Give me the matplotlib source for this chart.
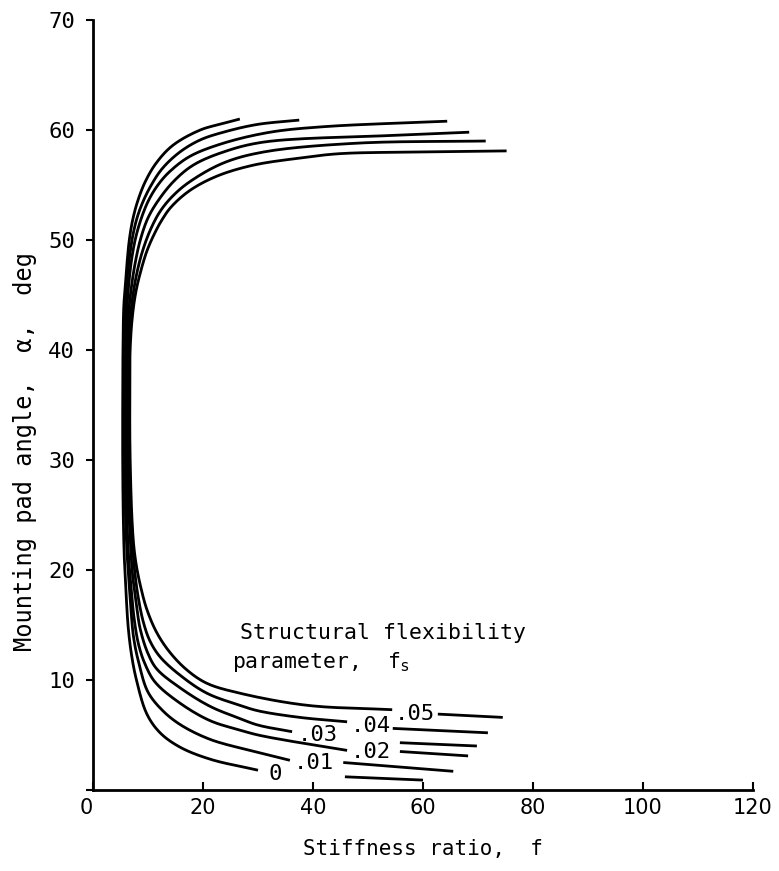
import numpy as np
import matplotlib
matplotlib.use("Agg")
import matplotlib.pyplot as plt

# ---- data: stiffness ratio f (x) vs mounting pad angle alpha (deg) ----
fs_labels = ["0", ".01", ".02", ".03", ".04", ".05"]

# main branch of each curve (from lower label gap, down round the bend, up to upper end)
f_000 = [30.0, 21.3, 15.8, 12.2, 9.8, 7.9, 7.0, 6.4, 6.0, 5.7, 5.5, 5.4, 5.4, 5.45, 5.6, 5.9, 6.2, 6.6, 7.2, 8.1, 9.5, 11.5, 14.5, 19.5, 23.7, 26.7]
a_000 = [1.8, 2.8, 3.9, 5.2, 6.9, 10.0, 12.3, 14.8, 18.0, 21.0, 25.0, 30.0, 35.0, 40.0, 44.0, 46.0, 48.0, 50.0, 51.8, 53.5, 55.3, 57.0, 58.6, 60.0, 60.6, 61.0]

f_001 = [35.8, 28.5, 21.3, 16.0, 12.7, 10.0, 8.4, 7.4, 6.9, 6.6, 6.3, 5.9, 5.7, 5.65, 5.7, 5.85, 6.2, 6.65, 7.2, 8.0, 9.1, 10.6, 12.6, 15.8, 19.5, 23.7, 29.8, 37.5]
a_001 = [2.7, 3.6, 4.6, 5.9, 7.2, 8.9, 11.4, 13.8, 16.4, 18.5, 20.5, 25.0, 30.0, 35.0, 40.0, 44.0, 46.5, 48.5, 50.3, 52.0, 53.5, 55.0, 56.5, 58.0, 59.1, 59.8, 60.5, 60.9]

f_002 = [46.2, 37.6, 30.0, 26.7, 21.3, 15.8, 11.3, 9.5, 8.3, 7.5, 7.0, 6.5, 6.15, 5.95, 5.9, 5.95, 6.2, 6.6, 7.1, 7.8, 8.8, 10.1, 11.8, 13.9, 17.6, 23.7, 32.2, 41.9, 64.4]
a_002 = [3.6, 4.3, 5.0, 5.45, 6.3, 7.9, 9.8, 11.4, 13.2, 15.5, 18.0, 21.0, 25.0, 30.0, 35.0, 40.0, 44.0, 46.5, 48.5, 50.3, 52.0, 53.6, 55.0, 56.2, 57.6, 58.8, 59.8, 60.3, 60.8]

f_003 = [36.2, 30.0, 26.7, 21.3, 15.8, 11.6, 10.0, 8.6, 7.9, 7.2, 6.7, 6.35, 6.2, 6.15, 6.2, 6.5, 7.0, 7.7, 8.6, 9.9, 11.6, 14.6, 18.2, 23.7, 31.0, 54.0, 68.4]
a_003 = [5.3, 5.9, 6.5, 7.6, 9.3, 11.0, 12.4, 14.6, 16.8, 19.5, 23.5, 27.0, 31.0, 35.0, 40.0, 43.5, 45.8, 48.0, 50.0, 51.9, 53.4, 55.3, 56.8, 58.0, 58.9, 59.5, 59.8]

f_004 = [46.2, 37.6, 30.0, 26.7, 20.7, 15.8, 12.2, 10.4, 9.3, 8.4, 7.6, 7.0, 6.65, 6.45, 6.4, 6.45, 6.8, 7.35, 8.2, 9.2, 10.5, 12.2, 14.5, 17.6, 23.7, 31.0, 47.9, 71.4]
a_004 = [6.2, 6.6, 7.2, 7.7, 8.8, 10.45, 12.1, 13.5, 15.0, 17.0, 19.8, 24.0, 27.5, 31.0, 35.0, 40.0, 43.0, 45.3, 47.5, 49.3, 51.0, 52.6, 54.0, 55.3, 57.0, 58.0, 58.8, 59.0]

f_005 = [54.4, 38.9, 26.7, 20.7, 17.1, 14.0, 11.6, 9.8, 8.7, 7.95, 7.45, 7.1, 6.85, 6.7, 6.7, 6.75, 7.15, 7.8, 8.7, 9.8, 11.1, 12.5, 14.2, 17.6, 22.5, 29.1, 37.6, 44.9, 60.0, 75.2]
a_005 = [7.3, 7.7, 8.8, 9.7, 10.9, 12.5, 14.3, 16.4, 18.4, 20.2, 22.0, 24.5, 28.0, 32.0, 36.0, 40.0, 43.0, 45.3, 47.2, 49.0, 50.5, 51.8, 53.0, 54.5, 55.8, 56.8, 57.45, 57.85, 58.0, 58.1]

# short lower tails to the right of the labels
tail_f_000 = [45.8, 60.0]
tail_a_000 = [1.2, 0.9]
tail_f_001 = [45.5, 65.5]
tail_a_001 = [2.5, 1.7]
tail_f_002 = [55.8, 68.2]
tail_a_002 = [3.5, 3.1]
tail_f_003 = [55.8, 69.8]
tail_a_003 = [4.3, 4.0]
tail_f_004 = [54.5, 71.8]
tail_a_004 = [5.6, 5.2]
tail_f_005 = [62.7, 74.5]
tail_a_005 = [6.9, 6.6]

# curve label positions
label_f = [33.1, 40.2, 50.5, 40.9, 50.5, 58.5]
label_a = [1.5, 2.5, 3.5, 5.0, 5.8, 6.9]

x_ticks = [0, 20, 40, 60, 80, 100, 120]
y_ticks = [0, 10, 20, 30, 40, 50, 60, 70]

MONO = "DejaVu Sans Mono"

# ---- figure ----
W, H = 779, 871
fig = plt.figure(figsize=(W / 100, H / 100), dpi=100)
ax = fig.add_axes([93 / W, 81 / H, 660 / W, 770 / H])
ax.set_xlim(0, 120)
ax.set_ylim(0, 70)


def catmull_rom(px, n=14, alpha=0.5):
    """Centripetal Catmull-Rom through the given display points (smooth drawing only)."""
    ext = np.vstack([2 * px[0] - px[1], px, 2 * px[-1] - px[-2]])
    out = []
    for i in range(1, len(ext) - 2):
        p0, p1, p2, p3 = ext[i - 1:i + 3]
        t0 = 0.0
        t1 = t0 + np.linalg.norm(p1 - p0) ** alpha
        t2 = t1 + np.linalg.norm(p2 - p1) ** alpha
        t3 = t2 + np.linalg.norm(p3 - p2) ** alpha
        t = np.linspace(t1, t2, n, endpoint=False)[:, None]
        A1 = (t1 - t) / (t1 - t0) * p0 + (t - t0) / (t1 - t0) * p1
        A2 = (t2 - t) / (t2 - t1) * p1 + (t - t1) / (t2 - t1) * p2
        A3 = (t3 - t) / (t3 - t2) * p2 + (t - t2) / (t3 - t2) * p3
        B1 = (t2 - t) / (t2 - t0) * A1 + (t - t0) / (t2 - t0) * A2
        B2 = (t3 - t) / (t3 - t1) * A2 + (t - t1) / (t3 - t1) * A3
        out.append((t2 - t) / (t2 - t1) * B1 + (t - t1) / (t2 - t1) * B2)
    out.append(px[-1:])
    return np.vstack(out)


def smooth_plot(fx, ay, **kw):
    disp = ax.transData.transform(np.column_stack([fx, ay]))
    curve = ax.transData.inverted().transform(catmull_rom(disp))
    ax.plot(curve[:, 0], curve[:, 1], **kw)


mains = [(f_000, a_000), (f_001, a_001), (f_002, a_002),
         (f_003, a_003), (f_004, a_004), (f_005, a_005)]
tails = [(tail_f_000, tail_a_000), (tail_f_001, tail_a_001), (tail_f_002, tail_a_002),
         (tail_f_003, tail_a_003), (tail_f_004, tail_a_004), (tail_f_005, tail_a_005)]

style = dict(color="black", lw=2.0, solid_capstyle="butt", solid_joinstyle="round")
for (fx, ay) in mains:
    smooth_plot(fx, ay, **style)
for (fx, ay) in tails:
    ax.plot(fx, ay, **style)

for lab, fx, ay in zip(fs_labels, label_f, label_a):
    ax.text(fx, ay, lab, fontsize=16, family=MONO, ha="center", va="center", color="black")

ax.text(26.7, 14.3, "Structural flexibility", fontsize=15.5, family=MONO, ha="left", va="center")
ax.text(25.3, 11.6, r"parameter,  f$_{\rm s}$", fontsize=15.5, family=MONO, ha="left", va="center")

ax.set_xticks(x_ticks)
ax.set_yticks(y_ticks)
ax.set_xticklabels([str(v) for v in x_ticks], fontsize=15)
ax.set_yticklabels([""] + [str(v) for v in y_ticks[1:]], fontsize=16, family=MONO)
xl = ax.get_xticklabels()
xl[0].set_horizontalalignment("right")

ax.tick_params(axis="x", direction="in", length=6, width=1.5, pad=6)
ax.tick_params(axis="y", direction="out", length=5, width=1.5, pad=8)

for s in ["top", "right"]:
    ax.spines[s].set_visible(False)
for s in ["left", "bottom"]:
    ax.spines[s].set_linewidth(2.0)

ax.set_xlabel("Stiffness ratio,  f", fontsize=15, family=MONO, labelpad=15)
ax.set_ylabel("Mounting pad angle,  α,  deg", fontsize=17, family=MONO)
ax.yaxis.set_label_coords(-0.085, 0.44)

fig.savefig("out.png", dpi=100)
